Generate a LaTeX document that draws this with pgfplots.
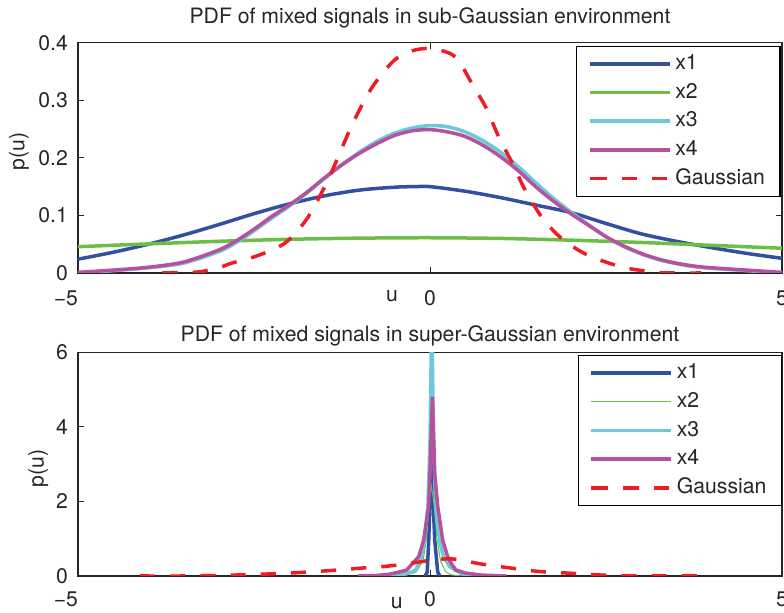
\documentclass[border=0pt]{standalone}
\usepackage{fontspec}
\setmainfont{TeX Gyre Heros}
\usepackage{pgfplots}
\pgfplotsset{compat=1.18}

\definecolor{cA}{RGB}{50,80,160}
\definecolor{cB}{RGB}{108,190,69}
\definecolor{cC}{RGB}{108,202,216}
\definecolor{cD}{RGB}{181,81,158}
\definecolor{cG}{RGB}{238,28,37}

\newcommand{\lab}{\fontsize{10.6}{12.7}\selectfont}

\pgfplotsset{
  pdfstyle/.style={
    scale only axis,
    width=352pt,
    xmin=-5, xmax=5,
    xtick={-5,0,5},
    xticklabels={\llap{−5},0,5},
    axis line style={line width=0.6pt, black!85},
    tick style={line width=0.5pt, black!85},
    major tick length=3pt,
    tick align=inside,
    tick label style={font=\lab, text=black!85},
    yticklabel style={anchor=east, inner sep=0pt, xshift=-4.85pt},
    label style={font=\lab, text=black!85},
    title style={font=\lab, text=black!85, anchor=base, at={(0.5,1)}},
    legend cell align=left,
    legend style={
      at={(rel axis cs:1,1)}, anchor=north east,
      draw=black, line width=0.6pt, fill=white,
      inner xsep=5.5pt, inner ysep=1.6pt,
      row sep=0pt, column sep=0pt,
      font=\lab, text=black!85,
      nodes={inner xsep=2pt, inner ysep=2.175pt, text height=7.8pt, text depth=2.2pt},
    },
    legend image code/.code={
      \path (0pt,0pt) -- (1pt,0pt);
      \draw[##1] (1pt,0pt) -- (40pt,0pt);
    },
  },
  thickline/.style={line width=1.75pt},
  gaussline/.style={line width=1.75pt, cG, dash pattern=on 7.6pt off 7.5pt},
}

\begin{document}
\begin{tikzpicture}
% upper panel: sub-Gaussian sources
\begin{axis}[pdfstyle,
  at={(39pt,170pt)}, anchor=south west,
  height=115.15pt,
  ymin=0, ymax=0.4,
  ytick={0,0.1,0.2,0.3,0.4},
  yticklabels={0,0.1,0.2,0.3,0.4},
  xticklabel style={anchor=base, yshift=-16.15pt},
  title={PDF of mixed signals in sub-Gaussian environment},
  title style={yshift=3.35pt},
  xlabel={u},
  xlabel style={at={(axis description cs:0.446,0)}, anchor=base, yshift=-14.15pt},
  ylabel={p(u)},
  ylabel style={at={(axis description cs:-0.0838,0.527)}, anchor=center},
  legend style={xshift=-0.75pt, yshift=-1.5pt},
]
\addplot[thickline, cA, smooth] coordinates {
(-5,0.024) (-4.5,0.036) (-4,0.050) (-3.5,0.066) (-3,0.084) (-2.5,0.103)
(-2,0.120) (-1.5,0.134) (-1,0.144) (-0.5,0.149) (-0.2,0.150) (0,0.150)
(0.5,0.142) (1,0.131) (1.5,0.118) (2,0.105) (2.5,0.086) (3,0.068)
(3.5,0.055) (4,0.044) (4.5,0.034) (5,0.0255)};
\addlegendentry{x1}
\addplot[thickline, cB, smooth] coordinates {
(-5,0.0457) (-4,0.0505) (-3,0.055) (-2,0.0585) (-1,0.0605) (0,0.0612)
(1,0.060) (2,0.057) (3,0.053) (4,0.048) (5,0.043)};
\addlegendentry{x2}
\addplot[thickline, cC, smooth] coordinates {
(-5,0.000) (-4.5,0.004) (-4,0.009) (-3.5,0.017) (-3,0.037) (-2.75,0.053)
(-2.5,0.073) (-2.25,0.095) (-2,0.116) (-1.75,0.139) (-1.5,0.164) (-1.25,0.188)
(-1,0.210) (-0.75,0.229) (-0.5,0.243) (-0.25,0.252) (0,0.256) (0.25,0.254)
(0.5,0.245) (0.75,0.230) (1,0.210) (1.25,0.185) (1.5,0.157) (1.75,0.130)
(2,0.106) (2.25,0.084) (2.5,0.063) (2.75,0.046) (3,0.033) (3.25,0.023)
(3.5,0.016) (3.75,0.011) (4,0.008) (4.5,0.004) (5,0.000)};
\addlegendentry{x3}
\addplot[thickline, cD, smooth] coordinates {
(-5,0.001) (-4.5,0.005) (-4,0.010) (-3.5,0.019) (-3,0.040) (-2.75,0.056)
(-2.5,0.076) (-2.25,0.098) (-2,0.118) (-1.75,0.140) (-1.5,0.165) (-1.25,0.188)
(-1,0.208) (-0.75,0.225) (-0.5,0.239) (-0.25,0.247) (0,0.249) (0.25,0.245)
(0.5,0.237) (0.75,0.222) (1,0.202) (1.25,0.178) (1.5,0.150) (1.75,0.125)
(2,0.103) (2.25,0.083) (2.5,0.063) (2.75,0.047) (3,0.034) (3.25,0.024)
(3.5,0.017) (3.75,0.012) (4,0.009) (4.5,0.005) (5,0.001)};
\addlegendentry{x4}
\addplot[gaussline, smooth] coordinates {
(-3.8,0.000) (-3.5,0.001) (-3.27,0.002) (-3,0.009) (-2.82,0.017) (-2.45,0.030)
(-2.06,0.052) (-1.76,0.092) (-1.52,0.144) (-1.36,0.186) (-1.10,0.259)
(-0.83,0.321) (-0.52,0.368) (-0.25,0.386) (0,0.390) (0.25,0.383) (0.4,0.370)
(0.6,0.328) (0.8,0.286) (0.97,0.238) (1.16,0.193) (1.36,0.142) (1.6,0.095)
(1.87,0.060) (2.24,0.031) (2.74,0.010) (3.22,0.001) (3.5,0.000) (3.85,0.000)};
\addlegendentry{Gaussian}
\end{axis}

% lower panel: super-Gaussian sources
\begin{axis}[pdfstyle,
  at={(39pt,18.5pt)}, anchor=south west,
  height=111.85pt,
  ymin=0, ymax=6,
  ytick={0,2,4,6},
  yticklabels={0,2,4,6},
  xticklabel style={anchor=base, yshift=-15.35pt},
  title={PDF of mixed signals in super-Gaussian environment},
  title style={yshift=-0.7pt},
  xlabel={u},
  xlabel style={at={(axis description cs:0.4527,0)}, anchor=base, yshift=-16.15pt},
  ylabel={p(u)},
  ylabel style={at={(axis description cs:-0.0564,0.481)}, anchor=center},
  legend style={xshift=0pt, yshift=-1.35pt},
]
\addplot[thickline, cA] coordinates {
(-0.07,0.0) (-0.04,0.1) (-0.018,0.96) (0.0,2.0) (0.025,3.8)
(0.045,2.0) (0.067,0.96) (0.11,0.1) (0.14,0.0)};
\addlegendentry{x1}
\addplot[line width=0.5pt, cB] coordinates {
(-0.55,0.0) (-0.35,0.02) (-0.2,0.1) (-0.1,0.4) (-0.05,1.0) (-0.02,1.9)
(0.02,2.4) (0.06,1.9) (0.1,1.0) (0.15,0.4) (0.22,0.12) (0.3,0.03) (0.45,0.0)};
\addlegendentry{x2}
\addplot[thickline, cC] coordinates {
(-0.7,0.0) (-0.45,0.02) (-0.3,0.08) (-0.2,0.16) (-0.12,0.52) (-0.08,0.96)
(-0.03,1.86) (0.0,3.65) (0.025,7.0) (0.05,3.65) (0.08,1.86) (0.135,0.96)
(0.19,0.52) (0.28,0.25) (0.35,0.16) (0.45,0.06) (0.57,0.02) (0.75,0.0)};
\addlegendentry{x3}
\addplot[thickline, cD] coordinates {
(-1.02,0.0) (-0.8,0.01) (-0.6,0.04) (-0.45,0.10) (-0.33,0.16) (-0.25,0.33)
(-0.16,0.52) (-0.09,0.965) (-0.02,1.86) (0.0,2.75) (0.035,4.81) (0.067,2.75)
(0.11,1.86) (0.18,0.965) (0.25,0.52) (0.32,0.28) (0.37,0.16) (0.5,0.08)
(0.71,0.027) (0.9,0.01) (1.08,0.0)};
\addlegendentry{x4}
\addplot[gaussline, smooth] coordinates {
(-4.12,0.0) (-3.5,0.0) (-3.0,0.015) (-2.74,0.027) (-2.30,0.054) (-1.88,0.089)
(-1.46,0.14) (-1.02,0.205) (-0.57,0.27) (-0.17,0.37) (0.0,0.42) (0.25,0.46)
(0.45,0.43) (0.7,0.33) (1.12,0.22) (1.55,0.12) (1.98,0.075) (2.41,0.027)
(2.84,0.005) (3.27,0.0) (3.81,0.0)};
\addlegendentry{Gaussian}
\end{axis}

\pgfresetboundingbox
\useasboundingbox (0,0) rectangle (392pt,306.5pt);
\end{tikzpicture}
\end{document}
